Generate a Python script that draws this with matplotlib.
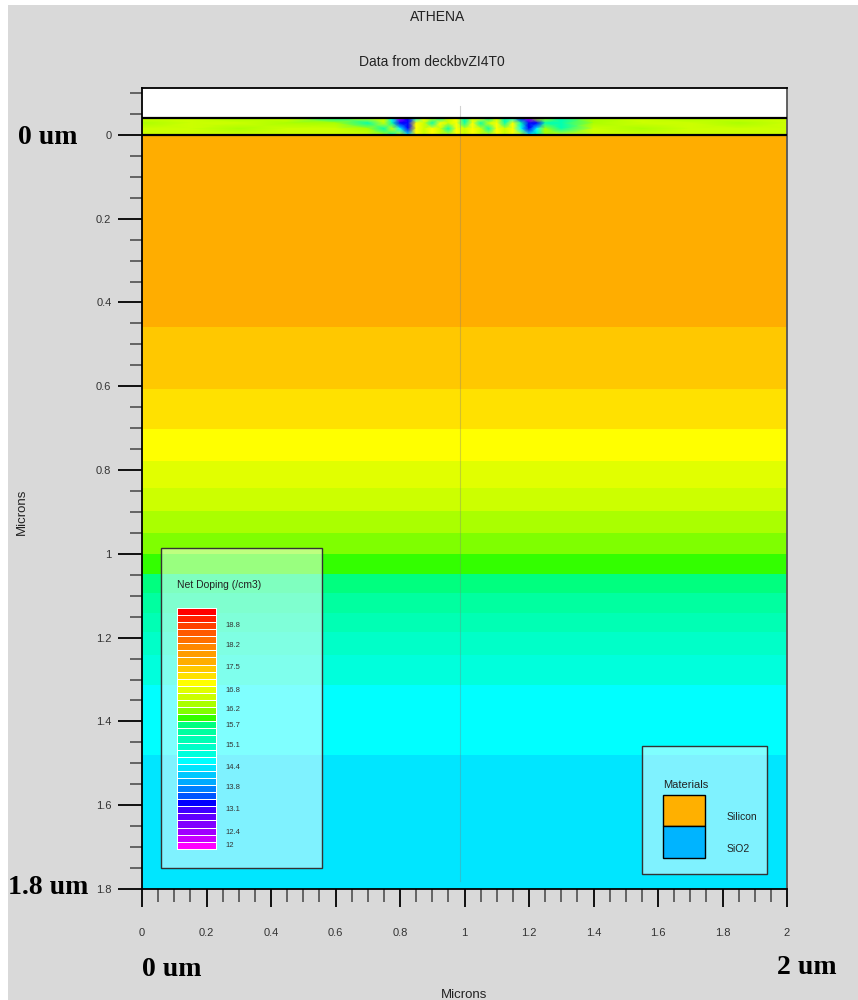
import matplotlib.pyplot as plt
import matplotlib.patches as mpatches
from matplotlib.colors import ListedColormap, Normalize
import numpy as np

# Net doping palette, top of the scale (red) down to the bottom (magenta)
palette = ['#FF0000', '#FF2000', '#FF4000', '#FF5A00', '#FF7000', '#FF8800',
           '#FF9C00', '#FFAD00', '#FFC800', '#FFE100', '#FFFF00', '#E1FF00',
           '#CCFF00', '#AAFF00', '#7FFF00', '#33FF00', '#00FF7F', '#00FFA0',
           '#00FFB4', '#00FFC8', '#00FFDC', '#00FFFF', '#00E6FF', '#00C8FF',
           '#00AAFF', '#0080FF', '#0055FF', '#0000FF', '#4000FF', '#6000FF',
           '#8000FF', '#A000FF', '#C800FF', '#FF00FF']
dop_min, dop_max = 11.89, 19.36

# Silicon: band edges in depth (microns) and log10 net doping of each band
band_edges = [0.0, 0.458, 0.607, 0.703, 0.779, 0.843, 0.897, 0.951, 1.000,
              1.048, 1.094, 1.142, 1.186, 1.241, 1.313, 1.480, 1.8]
band_doping = [17.71, 17.49, 17.27, 17.05, 16.83, 16.61, 16.39, 16.18,
               15.96, 15.74, 15.52, 15.30, 15.08, 14.86, 14.64, 14.42]

# Oxide on top of the silicon: log10 net doping at mesh nodes
oxide_y = [-0.041, -0.028, -0.015, 0.0]
oxide_x = [0, 0.15, 0.3, 0.45, 0.6, 0.7, 0.75, 0.775, 0.8, 0.825, 0.85,
           0.875, 0.9, 0.925, 0.95, 0.975, 1.0, 1.025, 1.05, 1.075, 1.1,
           1.125, 1.15, 1.175, 1.2, 1.225, 1.25, 1.3, 1.4, 1.55, 1.7, 1.85, 2.0]
Y, G, L, C, Q, B, M = 17.05, 16.61, 16.39, 15.30, 14.64, 13.32, 12.2
oxide_doping = [
    [G, G, L, G, C, G, G, Q, M, B, Q, Y, G, C, G, Y, C, G, Y, C, G, C, Q, B, M, G, L, C, L, G, L, G, G],
    [L, G, G, L, L, C, G, C, B, B, Y, G, C, Y, G, Y, C, Y, C, G, Y, C, Y, C, B, B, C, C, L, G, G, L, G],
    [G, G, L, G, G, L, C, G, Q, B, Y, G, Y, G, C, Y, G, Y, G, C, Y, G, Y, Q, B, Q, L, C, G, L, G, G, G],
    [G, G, G, G, G, G, L, C, G, Q, Y, G, Y, G, G, Y, G, Y, G, G, Y, G, Y, G, Q, C, L, G, G, G, G, G, G],
]

legend_values = [18.8, 18.2, 17.5, 16.8, 16.2, 15.7, 15.1, 14.4, 13.8, 13.1, 12.4, 12.0]
legend_labels = ['18.8', '18.2', '17.5', '16.8', '16.2', '15.7', '15.1',
                 '14.4', '13.8', '13.1', '12.4', '12']

materials = ['Silicon', 'SiO2']
material_colors = ['#FFB000', '#00B4FF']

x_ticks = [0, 0.2, 0.4, 0.6, 0.8, 1, 1.2, 1.4, 1.6, 1.8, 2]
x_labels = ['0', '0.2', '0.4', '0.6', '0.8', '1', '1.2', '1.4', '1.6', '1.8', '2']
y_ticks = [0, 0.2, 0.4, 0.6, 0.8, 1, 1.2, 1.4, 1.6, 1.8]
y_labels = ['0', '0.2', '0.4', '0.6', '0.8', '1', '1.2', '1.4', '1.6', '1.8']

plt.rcParams['font.family'] = ['Liberation Sans', 'DejaVu Sans']

cmap = ListedColormap(palette[::-1])
norm = Normalize(vmin=dop_min, vmax=dop_max)

fig = plt.figure(figsize=(8.58, 10), dpi=100, facecolor='white')
fig.patches.append(mpatches.Rectangle((8 / 858, 0), 1, 1 - 5 / 1000,
                                      transform=fig.transFigure,
                                      facecolor='#D9D9D9', edgecolor='none', zorder=-10))
ax = fig.add_axes([142 / 858, 1 - 889 / 1000, 645 / 858, 801 / 1000])
ax.set_facecolor('white')

# doping bands in the silicon
ax.pcolormesh([0, 2], band_edges, np.array(band_doping)[:, None],
              cmap=cmap, norm=norm, shading='flat', zorder=1)
# oxide layer, smoothed between mesh nodes
ax.pcolormesh(oxide_x, oxide_y, np.array(oxide_doping),
              cmap=cmap, norm=norm, shading='gouraud', zorder=1)
ax.axhline(oxide_y[0], color='black', lw=1.6, zorder=3)
ax.axhline(0, color='black', lw=1.6, zorder=3)
ax.plot([0.986, 0.986], [-0.07, 1.78], color='#808080', alpha=0.35, lw=0.8, zorder=2)

ax.set_xlim(0, 2)
ax.set_ylim(1.8, -0.112)

ax.set_xticks(x_ticks)
ax.set_xticklabels(x_labels)
ax.set_xticks(np.arange(0, 2.001, 0.05), minor=True)
ax.set_yticks(y_ticks)
ax.set_yticklabels(y_labels)
ax.set_yticks(np.arange(-0.1, 1.801, 0.05), minor=True)

ax.tick_params(axis='y', which='major', length=17, width=1.3, color='black',
               labelsize=8, labelcolor='#333333', pad=5)
ax.tick_params(axis='y', which='minor', length=9, width=1.1, color='#444444')
ax.tick_params(axis='x', which='major', length=13, width=1.3, color='black',
               labelsize=8, labelcolor='#333333', pad=15)
ax.tick_params(axis='x', which='minor', length=9, width=1.1, color='#444444')

for side in ['left', 'top', 'bottom']:
    ax.spines[side].set_linewidth(1.3)
    ax.spines[side].set_color('black')
ax.spines['right'].set_linewidth(1.3)
ax.spines['right'].set_color('#555555')

# Net doping legend
ax.add_patch(mpatches.Rectangle((0.059, 0.986), 0.499, 0.764,
                                facecolor=(1, 1, 1, 0.5), edgecolor='#333333',
                                lw=1, zorder=5))
ax.text(0.109, 1.074, 'Net Doping (/cm3)', fontsize=7.5, color='#222222',
        va='center', ha='left', zorder=7)
sw_top, sw_bot = 1.129, 1.704
n_sw = len(palette)
step = (dop_max - dop_min) / n_sw
sw_values = [dop_max - (i + 0.5) * step for i in range(n_sw)]
ax.pcolormesh([0.1085, 0.229], np.linspace(sw_top, sw_bot, n_sw + 1),
              np.array(sw_values)[:, None], cmap=cmap, norm=norm,
              edgecolors='white', linewidth=0.5, zorder=6)
for v, lab in zip(legend_values, legend_labels):
    yy = sw_top + (dop_max - v) / (dop_max - dop_min) * (sw_bot - sw_top)
    ax.text(0.26, yy, lab, fontsize=5.5, color='#333333', va='center', ha='left', zorder=7)

# Materials legend
ax.add_patch(mpatches.Rectangle((1.550, 1.459), 0.388, 0.305,
                                facecolor=(1, 1, 1, 0.5), edgecolor='#333333',
                                lw=1, zorder=5))
ax.text(1.615, 1.552, 'Materials', fontsize=8, color='#222222', va='center', ha='left', zorder=7)
for i, (name, col) in enumerate(zip(materials, material_colors)):
    y0 = 1.575 + i * 0.0755
    ax.add_patch(mpatches.Rectangle((1.615, y0), 0.131, 0.0755, facecolor=col,
                                    edgecolor='black', lw=1, zorder=6))
    ax.text(1.814, y0 + 0.053, name, fontsize=7.5, color='#222222',
            va='center', ha='left', zorder=7)

# titles and axis labels
fig.text(438 / 858, 1 - 17 / 1000, 'ATHENA', ha='center', va='center', fontsize=10, color='#222222')
fig.text(432 / 858, 1 - 62 / 1000, 'Data from deckbvZI4T0', ha='center', va='center',
         fontsize=10, color='#222222')
fig.text(464 / 858, 1 - 995 / 1000, 'Microns', ha='center', va='center', fontsize=9.5, color='#222222')
fig.text(22 / 858, 1 - 512 / 1000, 'Microns', ha='center', va='center', fontsize=9.5,
         color='#222222', rotation=90)

# dimension annotations
big = dict(family='Liberation Serif', fontweight='bold', fontsize=20, color='black', va='center')
fig.text(18 / 858, 1 - 137 / 1000, '0 um', ha='left', **big)
fig.text(8 / 858, 1 - 888 / 1000, '1.8 um', ha='left', **big)
fig.text(142 / 858, 1 - 970 / 1000, '0 um', ha='left', **big)
fig.text(777 / 858, 1 - 967 / 1000, '2 um', ha='left', **big)

fig.savefig('out.png', dpi=100, facecolor=fig.get_facecolor())
